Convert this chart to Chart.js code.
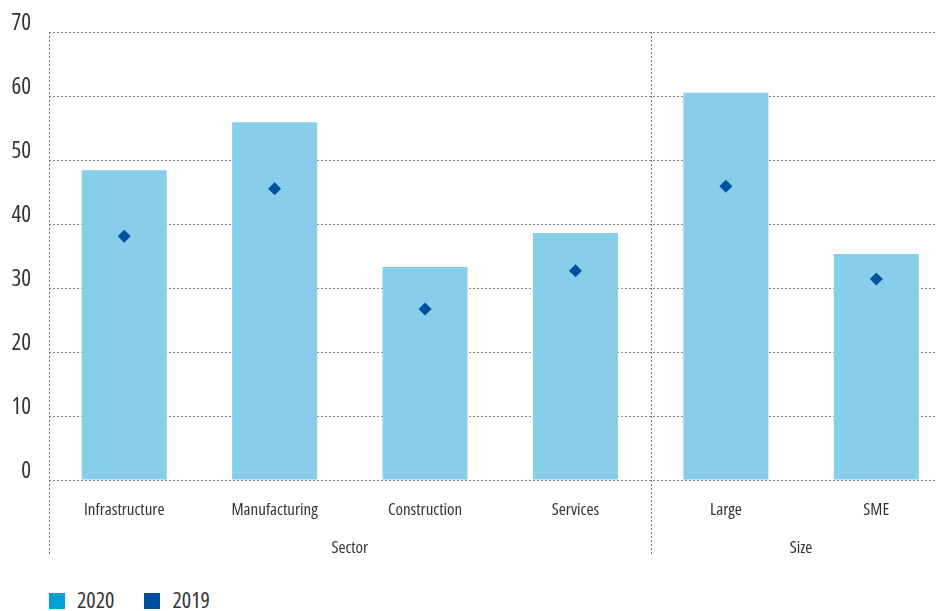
<!DOCTYPE html>
<html lang="en">
<head>
    <meta charset="utf-8">
    <script src="https://cdn.jsdelivr.net/npm/chart.js@4.4.1/dist/chart.umd.min.js"></script>
    <style>
        body { margin: 0; overflow: hidden; background: #fff; width: 936px; height: 611px; }
        #wrap { position: relative; width: 958px; height: 580px; }
        #legend { position: absolute; left: 49px; top: 584px; font-family: "Open Sans", sans-serif; font-stretch: condensed; font-size: 22px; color: #333; white-space: nowrap; }
        #legend span.item { display: inline-block; margin-right: 30px; }
        #legend span.box { display: inline-block; width: 16px; height: 16px; margin-right: 12px; vertical-align: -1px; }
    </style>
</head>
<body>
<div id="wrap"><canvas id="chart"></canvas></div>
<div id="legend"></div>

<script>
    // categories and groups
    var categories = ["Infrastructure", "Manufacturing", "Construction", "Services", "Large", "SME"];
    var groups = [
        {name: "Sector", from: 0, to: 3},
        {name: "Size", from: 4, to: 5}
    ];
    var yTicks = [0, 10, 20, 30, 40, 50, 60, 70];

    // series
    var values2020 = [48.4, 55.9, 33.3, 38.6, 60.5, 35.3];
    var values2019 = [38.1, 45.5, 26.7, 32.7, 45.9, 31.4];

    var seriesLabels = ["2020", "2019"];
    var legendColors = ["#009FD4", "#0050A0"];

    var fontName = '"Open Sans", sans-serif';

    // vertical lines, category + group labels (condensed text)
    var groupPlugin = {
        id: 'groupLines',
        beforeDraw: function (chart) {
            chart.ctx.fontStretch = 'condensed';
        },
        afterDraw: function (chart) {
            var ctx = chart.ctx;
            var x = chart.scales.x;
            var area = chart.chartArea;
            var bottom = 555;
            ctx.save();
            ctx.strokeStyle = '#777';
            ctx.lineWidth = 1;
            ctx.setLineDash([2, 2]);
            // left axis
            ctx.beginPath();
            ctx.moveTo(area.left + 0.5, area.top);
            ctx.lineTo(area.left + 0.5, bottom);
            ctx.stroke();
            // dividers between groups
            for (var g = 1; g < groups.length; g++) {
                var px = Math.round((x.getPixelForValue(groups[g].from) + x.getPixelForValue(groups[g - 1].to)) / 2) + 0.5;
                ctx.beginPath();
                ctx.moveTo(px, area.top);
                ctx.lineTo(px, bottom);
                ctx.stroke();
            }
            ctx.setLineDash([]);
            ctx.fillStyle = '#333';
            ctx.textAlign = 'center';
            ctx.textBaseline = 'middle';
            ctx.font = '17px ' + fontName;
            ctx.fontStretch = 'condensed';
            categories.forEach(function (c, i) {
                ctx.fillText(c, x.getPixelForValue(i), 510);
            });
            ctx.font = '17px ' + fontName;
            ctx.fontStretch = 'condensed';
            groups.forEach(function (grp) {
                var cx = (x.getPixelForValue(grp.from) + x.getPixelForValue(grp.to)) / 2;
                ctx.fillText(grp.name, cx, 548);
            });
            ctx.restore();
        }
    };

    new Chart(document.getElementById('chart'), {
        data: {
            labels: categories,
            datasets: [{
                type: 'bar',
                label: seriesLabels[0],
                data: values2020,
                backgroundColor: '#87CEEA',
                barPercentage: 0.565,
                categoryPercentage: 1,
                order: 1
            }, {
                type: 'line',
                label: seriesLabels[1],
                data: values2019,
                showLine: false,
                pointStyle: 'rectRot',
                pointRadius: 6.5,
                pointHoverRadius: 6.5,
                pointBorderWidth: 0,
                backgroundColor: '#0050A0',
                borderColor: '#0050A0',
                order: 0
            }]
        },
        options: {
            responsive: true,
            maintainAspectRatio: false,
            animation: false,
            layout: {padding: {top: 32, left: 0, right: 0, bottom: 0}},
            plugins: {legend: {display: false}, tooltip: {enabled: false}},
            scales: {
                x: {
                    grid: {display: false},
                    border: {display: false},
                    ticks: {display: false},
                    afterFit: function (scale) { scale.height = 100; }
                },
                y: {
                    min: 0,
                    max: 70,
                    afterBuildTicks: function (scale) {
                        scale.ticks = yTicks.map(function (v) { return {value: v}; });
                    },
                    grid: {color: '#888', drawTicks: false},
                    border: {display: false, dash: [2, 2]},
                    ticks: {color: '#333', font: {family: fontName, size: 23}, padding: 18, labelOffset: -9},
                    afterFit: function (scale) { scale.width = 49; }
                }
            }
        },
        plugins: [groupPlugin, {
            id: 'dashGrid',
            beforeDraw: function (chart) {
                chart.options.scales.y.grid.borderDash = [2, 2];
            }
        }]
    });

    // legend
    var legend = document.getElementById('legend');
    seriesLabels.forEach(function (lbl, i) {
        var item = document.createElement('span');
        item.className = 'item';
        item.innerHTML = '<span class="box" style="background:' + legendColors[i] + '"></span>' + lbl;
        legend.appendChild(item);
    });
</script>
</body>
</html>
